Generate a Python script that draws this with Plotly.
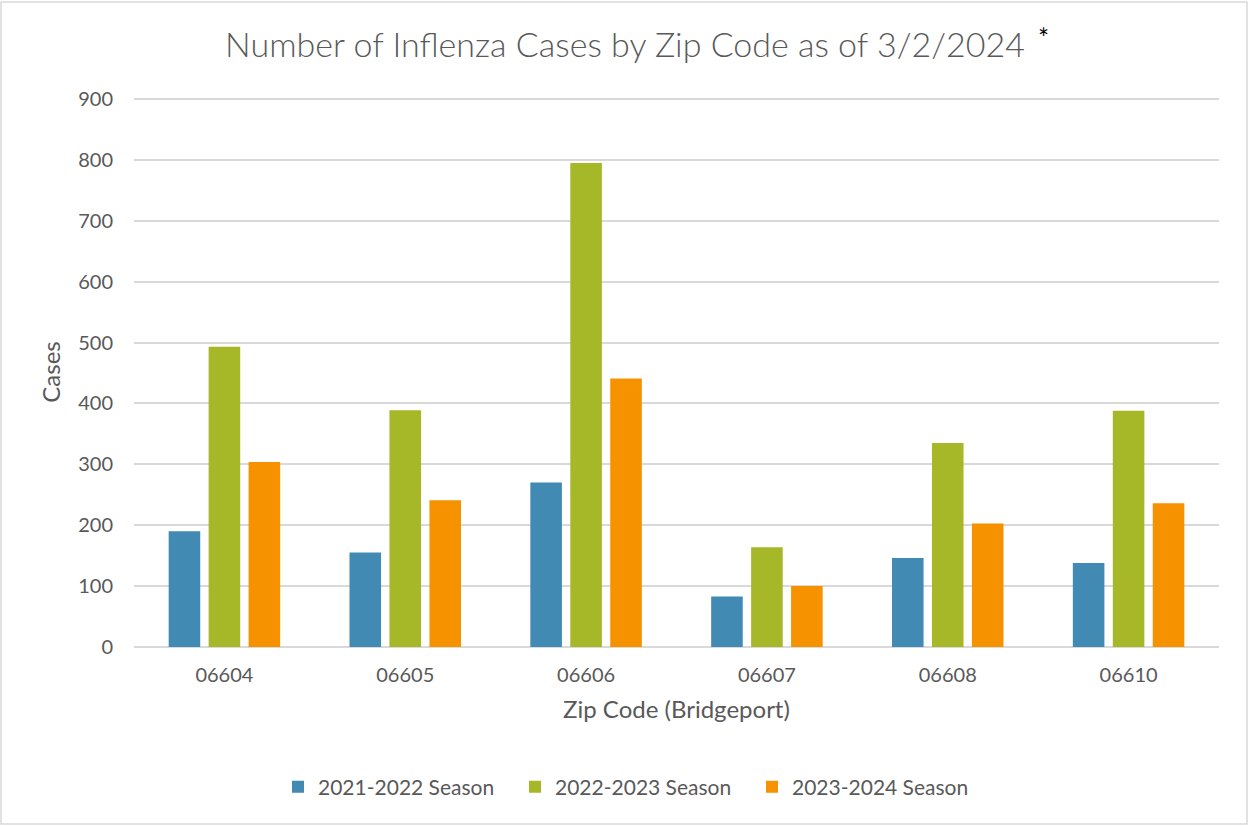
import plotly.graph_objects as go

zip_codes = ["06604", "06605", "06606", "06607", "06608", "06610"]
season_2021_22 = [190, 155, 270, 83, 146, 138]
season_2022_23 = [493, 389, 795, 164, 335, 388]
season_2023_24 = [304, 241, 441, 100, 203, 236]
series_names = ["2021-2022 Season", "2022-2023 Season", "2023-2024 Season"]
colors = ["#418AB3", "#A6B727", "#F69200"]
y_ticks = [0, 100, 200, 300, 400, 500, 600, 700, 800, 900]

FONT = "Lato"
GRAY = "#595959"

fig = go.Figure()
for name, vals, col in zip(series_names, [season_2021_22, season_2022_23, season_2023_24], colors):
    fig.add_trace(go.Bar(x=zip_codes, y=vals, name=name, marker=dict(color=col, line=dict(width=0))))

fig.update_layout(
    width=1249, height=826,
    paper_bgcolor="white", plot_bgcolor="white",
    margin=dict(l=134, r=30, t=97, b=179),
    barmode="group", bargap=0.337, bargroupgap=0.21,
    font=dict(family=FONT, color=GRAY, size=20),
    title=dict(text="Number of Inflenza Cases by Zip Code as of 3/2/2024", x=625 / 1249, xref="container",
               xanchor="center", y=1 - 45 / 826, yref="container", yanchor="middle",
               font=dict(family=FONT, size=34, color=GRAY, weight=300)),
    showlegend=True,
    legend=dict(orientation="h", x=(278 - 134) / 1085, xanchor="left", y=(647 - 787) / 550, yanchor="middle",
                font=dict(family=FONT, size=21, color=GRAY), entrywidth=192, entrywidthmode="pixels"),
    xaxis=dict(type="category", showgrid=False, showline=False, ticks="",
               tickfont=dict(family=FONT, size=20, color=GRAY), ticklabelstandoff=14,
               title=dict(text="Zip Code (Bridgeport)", font=dict(family=FONT, size=24, color=GRAY), standoff=16)),
    yaxis=dict(range=[0, 903.3], tickvals=y_ticks, showgrid=True, gridcolor="#D9D9D9", gridwidth=1.5,
               zeroline=True, zerolinecolor="#D9D9D9", zerolinewidth=1.5, showline=False, ticks="",
               tickfont=dict(family=FONT, size=20, color=GRAY), ticklabelstandoff=20,
               title=dict(text="Cases", font=dict(family=FONT, size=24, color=GRAY), standoff=10)),
)

fig.add_annotation(text="*", xref="paper", yref="paper", x=(1051 - 134) / 1085, y=(647 - 20) / 550,
                   showarrow=False, font=dict(family=FONT, size=26, color="#000000"))

fig.add_shape(type="rect", xref="paper", yref="paper",
              x0=(1 - 134) / 1085, x1=(1247 - 134) / 1085, y0=(647 - 824) / 550, y1=(647 - 2) / 550,
              line=dict(color="#D9D9D9", width=1.5), fillcolor="rgba(0,0,0,0)", layer="below")

fig.write_html("out.html", config={"displayModeBar": False},
               post_script="document.body.style.margin='0';")
